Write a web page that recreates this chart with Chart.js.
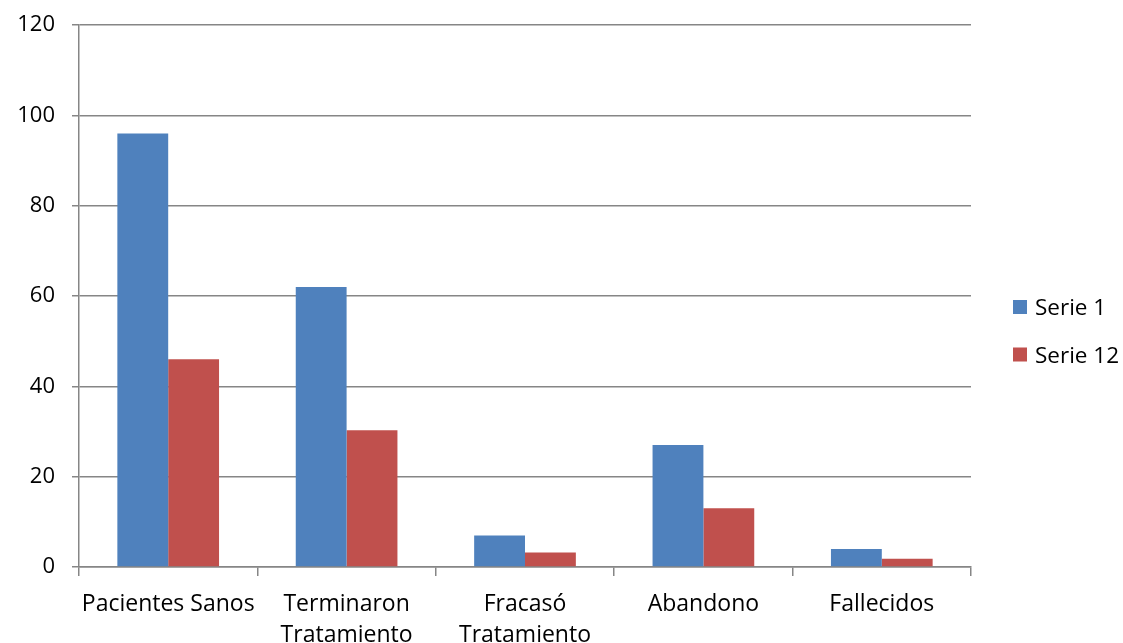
<!DOCTYPE html>
<html>
<head>
<meta charset="utf-8">
<script src="https://cdn.jsdelivr.net/npm/chart.js@4"></script>
<style>
html,body{margin:0;padding:0;background:#fff;}
#wrap{width:1123px;height:643px;}
</style>
</head>
<body>
<div id="wrap"><canvas id="c" width="1123" height="643"></canvas></div>
<script>
const categories = ["Pacientes Sanos", ["Terminaron", "Tratamiento"], ["Fracasó", "Tratamiento"], "Abandono", "Fallecidos"];
const seriesNames = ["Serie 1", "Serie 12"];
const serie1 = [96, 62, 7, 27, 4];
const serie12 = [46, 30.3, 3.2, 13, 1.8];
const yTicks = [0, 20, 40, 60, 80, 100, 120];
const colors = ["#4F81BD", "#C0504D"];

const FONT = "'Open Sans', Lato, sans-serif";
const GRID = "#868686";

const legendPlugin = {
  id: 'customLegend',
  afterDraw(chart) {
    const ctx = chart.ctx;
    ctx.save();
    ctx.font = "22.5px " + FONT;
    ctx.textBaseline = "middle";
    ctx.textAlign = "left";
    chart.data.datasets.forEach((ds, i) => {
      const y = 307 + i * 47.5;
      ctx.fillStyle = ds.backgroundColor;
      ctx.fillRect(1013, y - 7, 14, 14);
      ctx.fillStyle = "#000";
      ctx.fillText(ds.label, 1035, y + 2);
    });
    ctx.restore();
  }
};

new Chart(document.getElementById('c'), {
  type: 'bar',
  data: {
    labels: categories,
    datasets: [
      { label: seriesNames[0], data: serie1, backgroundColor: colors[0] },
      { label: seriesNames[1], data: serie12, backgroundColor: colors[1] }
    ]
  },
  options: {
    responsive: false,
    animation: false,
    devicePixelRatio: 1,
    layout: { padding: { top: 25, right: 152, bottom: 0, left: 0 } },
    datasets: { bar: { categoryPercentage: 0.57, barPercentage: 1, borderWidth: 0 } },
    plugins: { legend: { display: false }, tooltip: { enabled: false } },
    scales: {
      x: {
        offset: true,
        grid: { display: true, offset: true, drawOnChartArea: false, color: GRID, lineWidth: 1.5, tickLength: 9, tickColor: GRID },
        border: { display: true, color: GRID, width: 1.5 },
        ticks: { color: "#000", font: { family: FONT, size: 23, lineHeight: 1.35 }, padding: 13, maxRotation: 0, autoSkip: false },
        afterFit(scale) { scale.height = 76; scale.paddingLeft = 0; scale.paddingRight = 0; }
      },
      y: {
        min: 0, max: 120,
        afterBuildTicks(scale) { scale.ticks = yTicks.map(v => ({ value: v })); },
        grid: { color: GRID, lineWidth: 1.5, tickLength: 7, tickColor: GRID },
        border: { display: true, color: GRID, width: 1.5 },
        ticks: { color: "#000", font: { family: FONT, size: 22 }, padding: 17 },
        afterFit(scale) { scale.width = 79; scale.paddingTop = 0; scale.paddingBottom = 0; }
      }
    }
  },
  plugins: [legendPlugin]
});
</script>
</body>
</html>
